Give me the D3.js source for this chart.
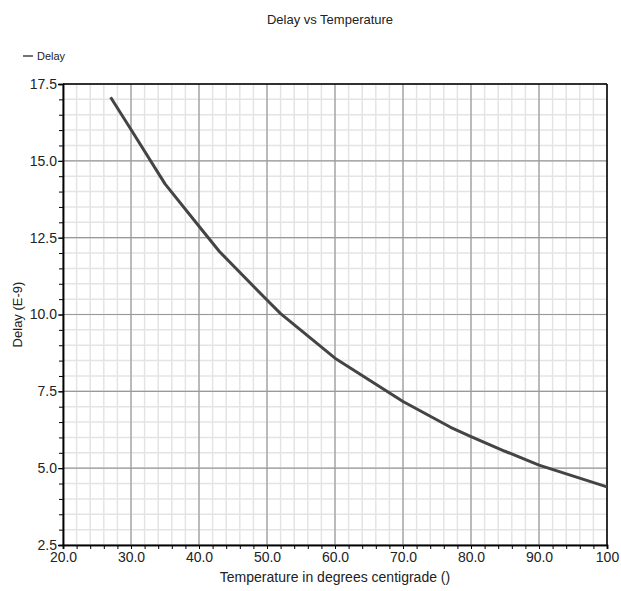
<!DOCTYPE html>
<html>
<head>
<meta charset="utf-8">
<script src="https://d3js.org/d3.v7.min.js"></script>
<style>
  body { margin: 0; background: #fff; }
  text { font-family: "Liberation Sans", Arial, sans-serif; fill: #222; }
</style>
</head>
<body>
<div id="chart"></div>
<script>
// values
const temperature = [27, 30, 35, 40, 43, 50, 52, 60, 70, 77, 80, 85, 90, 100];
const delay = [17.07, 16.02, 14.25, 12.87, 12.05, 10.47, 10.03, 8.58, 7.17, 6.33, 6.03, 5.55, 5.10, 4.39];
const xTicks = [20, 30, 40, 50, 60, 70, 80, 90, 100];
const yTicks = [2.5, 5.0, 7.5, 10.0, 12.5, 15.0, 17.5];
const seriesName = "Delay";

const width = 621, height = 591;
const margin = { top: 84, right: 14, bottom: 46, left: 63 };
const plotW = width - margin.left - margin.right;
const plotH = height - margin.top - margin.bottom;

const svg = d3.select("#chart").append("svg")
    .attr("width", width)
    .attr("height", height);

const x = d3.scaleLinear().domain([20, 100]).range([0, plotW]);
const y = d3.scaleLinear().domain([2.5, 17.5]).range([plotH, 0]);

const g = svg.append("g")
    .attr("transform", "translate(" + margin.left + "," + margin.top + ")");

// minor grid: every 2 degrees and every 0.5 delay
const xMinor = d3.range(20, 100.01, 2);
const yMinor = d3.range(2.5, 17.51, 0.5);

g.append("g").selectAll("line").data(xMinor).join("line")
    .attr("x1", d => x(d)).attr("x2", d => x(d))
    .attr("y1", 0).attr("y2", plotH)
    .attr("stroke", "#e4e4e4").attr("stroke-width", 1.5);
g.append("g").selectAll("line").data(yMinor).join("line")
    .attr("y1", d => y(d)).attr("y2", d => y(d))
    .attr("x1", 0).attr("x2", plotW)
    .attr("stroke", "#e4e4e4").attr("stroke-width", 1.5);

// major grid
g.append("g").selectAll("line").data(xTicks).join("line")
    .attr("x1", d => x(d)).attr("x2", d => x(d))
    .attr("y1", 0).attr("y2", plotH)
    .attr("stroke", "#999").attr("stroke-width", 1.2);
g.append("g").selectAll("line").data(yTicks).join("line")
    .attr("y1", d => y(d)).attr("y2", d => y(d))
    .attr("x1", 0).attr("x2", plotW)
    .attr("stroke", "#999").attr("stroke-width", 1.2);

// top and right frame
g.append("line").attr("x1", 0).attr("x2", plotW).attr("y1", 0).attr("y2", 0)
    .attr("stroke", "#000").attr("stroke-width", 1.5);
g.append("line").attr("x1", plotW).attr("x2", plotW).attr("y1", 0).attr("y2", plotH)
    .attr("stroke", "#000").attr("stroke-width", 1.5);

// axes with minor ticks
const xAxisMinor = d3.axisBottom(x).tickValues(xMinor).tickSize(4).tickFormat("");
const yAxisMinor = d3.axisLeft(y).tickValues(yMinor).tickSize(4).tickFormat("");
const xAxis = d3.axisBottom(x).tickValues(xTicks).tickSize(4).tickPadding(3)
    .tickFormat(d => d === 100 ? "100" : d3.format(".1f")(d));
const yAxis = d3.axisLeft(y).tickValues(yTicks).tickSize(5).tickPadding(1)
    .tickFormat(d3.format(".1f"));

function styleAxis(sel) {
    sel.select(".domain").attr("stroke", "#000").attr("stroke-width", 1.5);
    sel.selectAll(".tick line").attr("stroke", "#000");
    sel.selectAll(".tick text").attr("font-size", 14).style("fill", "#222");
}

g.append("g").attr("transform", "translate(0," + plotH + ")").call(xAxisMinor).call(styleAxis);
g.append("g").call(yAxisMinor).call(styleAxis);
g.append("g").attr("transform", "translate(0," + plotH + ")").call(xAxis).call(styleAxis);
g.append("g").call(yAxis).call(styleAxis);

// the data line
const points = temperature.map((t, i) => [t, delay[i]]);
g.append("path")
    .datum(points)
    .attr("fill", "none")
    .attr("stroke", "#444")
    .attr("stroke-width", 3)
    .attr("stroke-linejoin", "round")
    .attr("d", d3.line().x(d => x(d[0])).y(d => y(d[1])));

// titles
svg.append("text")
    .attr("x", 330).attr("y", 24)
    .attr("text-anchor", "middle")
    .attr("font-size", 13)
    .text("Delay vs Temperature");

svg.append("text")
    .attr("x", margin.left + plotW / 2).attr("y", 582)
    .attr("text-anchor", "middle")
    .attr("font-size", 14)
    .text("Temperature in degrees centigrade ()");

svg.append("text")
    .attr("transform", "translate(22," + (margin.top + plotH / 2) + ") rotate(-90)")
    .attr("text-anchor", "middle")
    .attr("font-size", 13)
    .text("Delay (E-9)");

// legend
svg.append("line")
    .attr("x1", 23).attr("x2", 33).attr("y1", 56).attr("y2", 56)
    .attr("stroke", "#444").attr("stroke-width", 1.5);
svg.append("text")
    .attr("x", 37).attr("y", 60)
    .attr("font-size", 11)
    .text(seriesName);
</script>
</body>
</html>
